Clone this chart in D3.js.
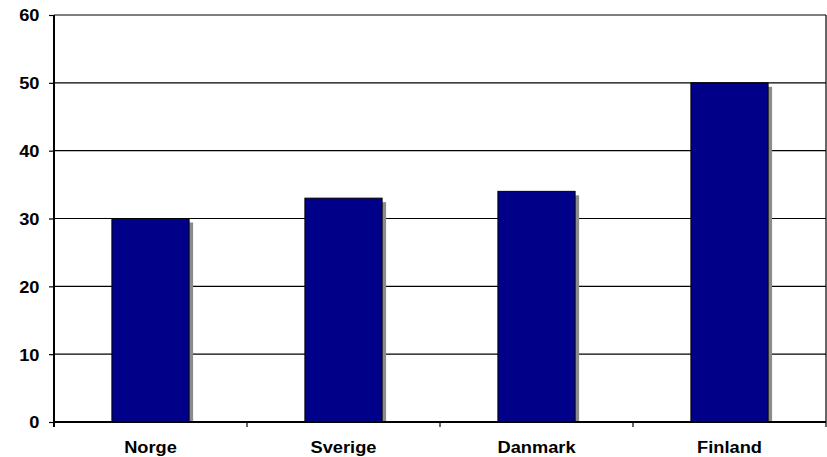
<!DOCTYPE html>
<html>
<head>
<meta charset="utf-8">
<style>
  body { margin: 0; background: #fff; }
  text { font-family: "Liberation Sans", Arial, sans-serif; font-weight: bold; font-size: 16.3px; fill: #000; }
</style>
</head>
<body>
<svg id="graph" width="827" height="457"></svg>
<script src="https://cdnjs.cloudflare.com/ajax/libs/d3/7.8.5/d3.min.js"></script>
<script>
var countries = ["Norge", "Sverige", "Danmark", "Finland"];
var values = [30, 33, 34, 50];
var yTicks = [0, 10, 20, 30, 40, 50, 60];

var mLeft = 54, mRight = 826, mTop = 15, mBottom = 422;
var stretch = 1.12; // labels in the original are a bit wide
var svg = d3.select("#graph");

var xScale = d3.scaleBand().domain(countries).range([mLeft, mRight]).paddingInner(0.6).paddingOuter(0.3);
var xOuter = d3.scaleBand().domain(countries).range([mLeft, mRight]);
var yScale = d3.scaleLinear().domain([0, 60]).range([mBottom, mTop]);

// gridlines
svg.append("g").selectAll("line")
  .data(yTicks.filter(d => d > 0)).enter()
  .append("line")
    .attr("x1", mLeft).attr("x2", mRight)
    .attr("y1", d => yScale(d)).attr("y2", d => yScale(d))
    .style("stroke", "#000").style("stroke-width", "1.2px");

// right border
svg.append("line")
  .attr("x1", mRight).attr("x2", mRight).attr("y1", mTop).attr("y2", mBottom)
  .style("stroke", "#000").style("stroke-width", "1.2px");

// shadows
svg.append("g").selectAll("rect")
  .data(values).enter()
  .append("rect")
    .attr("x", (d, i) => xScale(countries[i]) + 4)
    .attr("y", d => yScale(d) + 4)
    .attr("width", xScale.bandwidth())
    .attr("height", d => mBottom - yScale(d) - 4)
    .style("fill", "#8c8c8c");

// bars
svg.append("g").selectAll("rect")
  .data(values).enter()
  .append("rect")
    .attr("x", (d, i) => xScale(countries[i]))
    .attr("y", d => yScale(d))
    .attr("width", xScale.bandwidth())
    .attr("height", d => mBottom - yScale(d))
    .style("fill", "#000088")
    .style("stroke", "#000")
    .style("stroke-width", "1px");

// y axis
var yAxis = d3.axisLeft(yScale).tickValues(yTicks).tickSize(5);
var gy = svg.append("g").attr("transform", "translate(" + mLeft + ",0)").call(yAxis);
gy.select(".domain").remove();
gy.selectAll(".tick line").style("stroke", "#000").style("stroke-width", "1.2px");
gy.selectAll(".tick text")
  .style("font-size", null).style("font-family", null)
  .attr("x", 0).attr("dy", "0.36em")
  .attr("transform", "translate(-14.5,0) scale(" + stretch + ",1)");
svg.append("line")
  .attr("x1", mLeft).attr("x2", mLeft).attr("y1", mTop).attr("y2", mBottom + 5)
  .style("stroke", "#000").style("stroke-width", "2px");

// x axis
svg.append("line")
  .attr("x1", mLeft).attr("x2", mRight).attr("y1", mBottom).attr("y2", mBottom)
  .style("stroke", "#000").style("stroke-width", "2px");
svg.append("g").selectAll("line")
  .data(countries.slice(1).concat(["end"])).enter()
  .append("line")
    .attr("x1", (d, i) => mLeft + (i + 1) * xOuter.step())
    .attr("x2", (d, i) => mLeft + (i + 1) * xOuter.step())
    .attr("y1", mBottom).attr("y2", mBottom + 5)
    .style("stroke", "#000").style("stroke-width", "1.2px");
svg.append("g").selectAll("text")
  .data(countries).enter()
  .append("text")
    .attr("transform", d => "translate(" + (xOuter(d) + xOuter.bandwidth() / 2) + ",453) scale(" + stretch + ",1)")
    .attr("text-anchor", "middle")
    .text(d => d);
</script>
</body>
</html>
